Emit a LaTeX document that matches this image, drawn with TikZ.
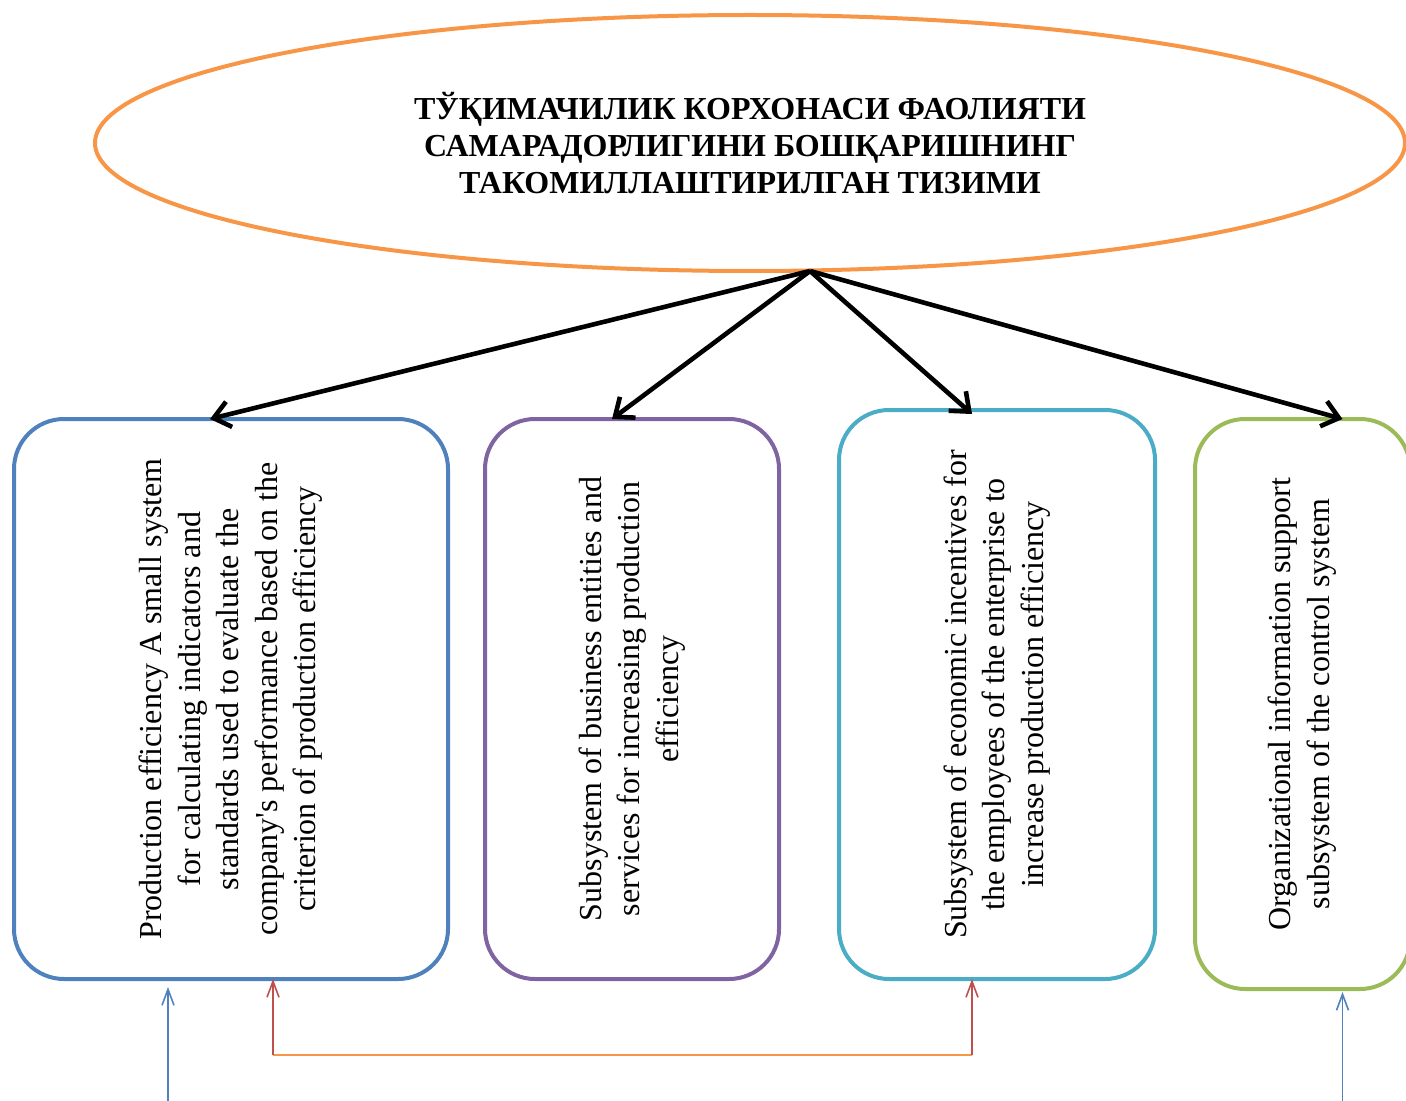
\documentclass[tikz,border=0pt]{standalone}
\usepackage{fontspec}
\setmainfont{Liberation Serif}
\usepackage{graphicx}
\usetikzlibrary{shapes.geometric, arrows.meta, positioning}

\definecolor{titleorange}{HTML}{F79646}
\definecolor{boxblue}{HTML}{4F81BD}
\definecolor{boxpurple}{HTML}{8064A2}
\definecolor{boxteal}{HTML}{4BACC6}
\definecolor{boxgreen}{HTML}{9BBB59}
\definecolor{linkred}{HTML}{C0504D}

\newcommand{\vtext}[1]{\rotatebox{90}{\begin{tabular}{@{}c@{}}#1\end{tabular}}}

\begin{document}
\begin{tikzpicture}[
x=0.5pt, y=-0.5pt,
every node/.style={font=\fontsize{16}{19.3}\selectfont},
system/.style={ellipse, draw=titleorange, line width=2pt, minimum width=655pt, minimum height=128pt, align=center, font=\fontsize{16}{18.5}\selectfont\bfseries},
subsystem/.style={rectangle, rounded corners=25pt, line width=2pt, inner sep=0pt, outer sep=0pt, minimum height=280pt},
arrow/.style={-{Straight Barb[length=8pt, width=13pt]}, line width=2.3pt},
feed/.style={-{Straight Barb[length=8pt, width=6pt]}, line width=0.8pt}
]
\useasboundingbox (0,0) rectangle (1406,1101);

% SYSTEM
\node (system) [system] at (750,143) {ТЎҚИМАЧИЛИК КОРХОНАСИ ФАОЛИЯТИ\\САМАРАДОРЛИГИНИ БОШҚАРИШНИНГ\\ТАКОМИЛЛАШТИРИЛГАН ТИЗИМИ};
\coordinate (hub) at ([xshift=30pt, yshift=1pt]system.south);

% SUBSYSTEMS
\node (efficiency) [subsystem, draw=boxblue, minimum width=217pt] at (231,699) {\vtext{Production efficiency A small system\\for calculating indicators and\\standards used to evaluate the\\company\textquotesingle s performance based on the\\criterion of production efficiency}};
\node (business) [subsystem, draw=boxpurple, minimum width=147pt, right=18.5pt of efficiency] {\vtext{Subsystem of business entities and\\services for increasing production\\efficiency}};
\node (incentives) [subsystem, draw=boxteal, minimum width=158pt, minimum height=284.5pt, right=30pt of business, yshift=2.25pt] {\vtext{Subsystem of economic incentives for\\the employees of the enterprise to\\increase production efficiency}};
\node (information) [subsystem, draw=boxgreen, minimum width=107.5pt, minimum height=285pt, right=20pt of incentives, yshift=-4.75pt] {\vtext{Organizational information support\\subsystem of the control system}};

% ARROWS
\draw[arrow] (hub) -- ([xshift=-10.5pt]efficiency.north);
\draw[arrow] (hub) -- ([xshift=-10pt]business.north);
\draw[arrow] (hub) -- ([xshift=-12.5pt, yshift=-2pt]incentives.north);
\draw[arrow] (hub) -- ([xshift=20pt]information.north);

% LINKS
\coordinate (inEff) at ([xshift=-31.5pt, yshift=-62pt]efficiency.south);
\coordinate (inInfo) at ([xshift=20pt, yshift=-57pt]information.south);
\coordinate (linkEff) at ([xshift=21pt, yshift=-38pt]efficiency.south);
\coordinate (linkInc) at ([xshift=-12.5pt, yshift=-38pt]incentives.south);

\draw[feed, boxblue] (inEff) -- ([xshift=-31.5pt, yshift=-4pt]efficiency.south);
\draw[titleorange, line width=0.8pt] (linkEff) -- (linkInc);
\draw[feed, linkred] (linkEff) -- ([xshift=21pt]efficiency.south);
\draw[feed, linkred] (linkInc) -- ([xshift=-12.5pt]incentives.south);
\draw[feed, boxblue] (inInfo) -- ([xshift=20pt, yshift=-1.5pt]information.south);

\end{tikzpicture}
\end{document}
